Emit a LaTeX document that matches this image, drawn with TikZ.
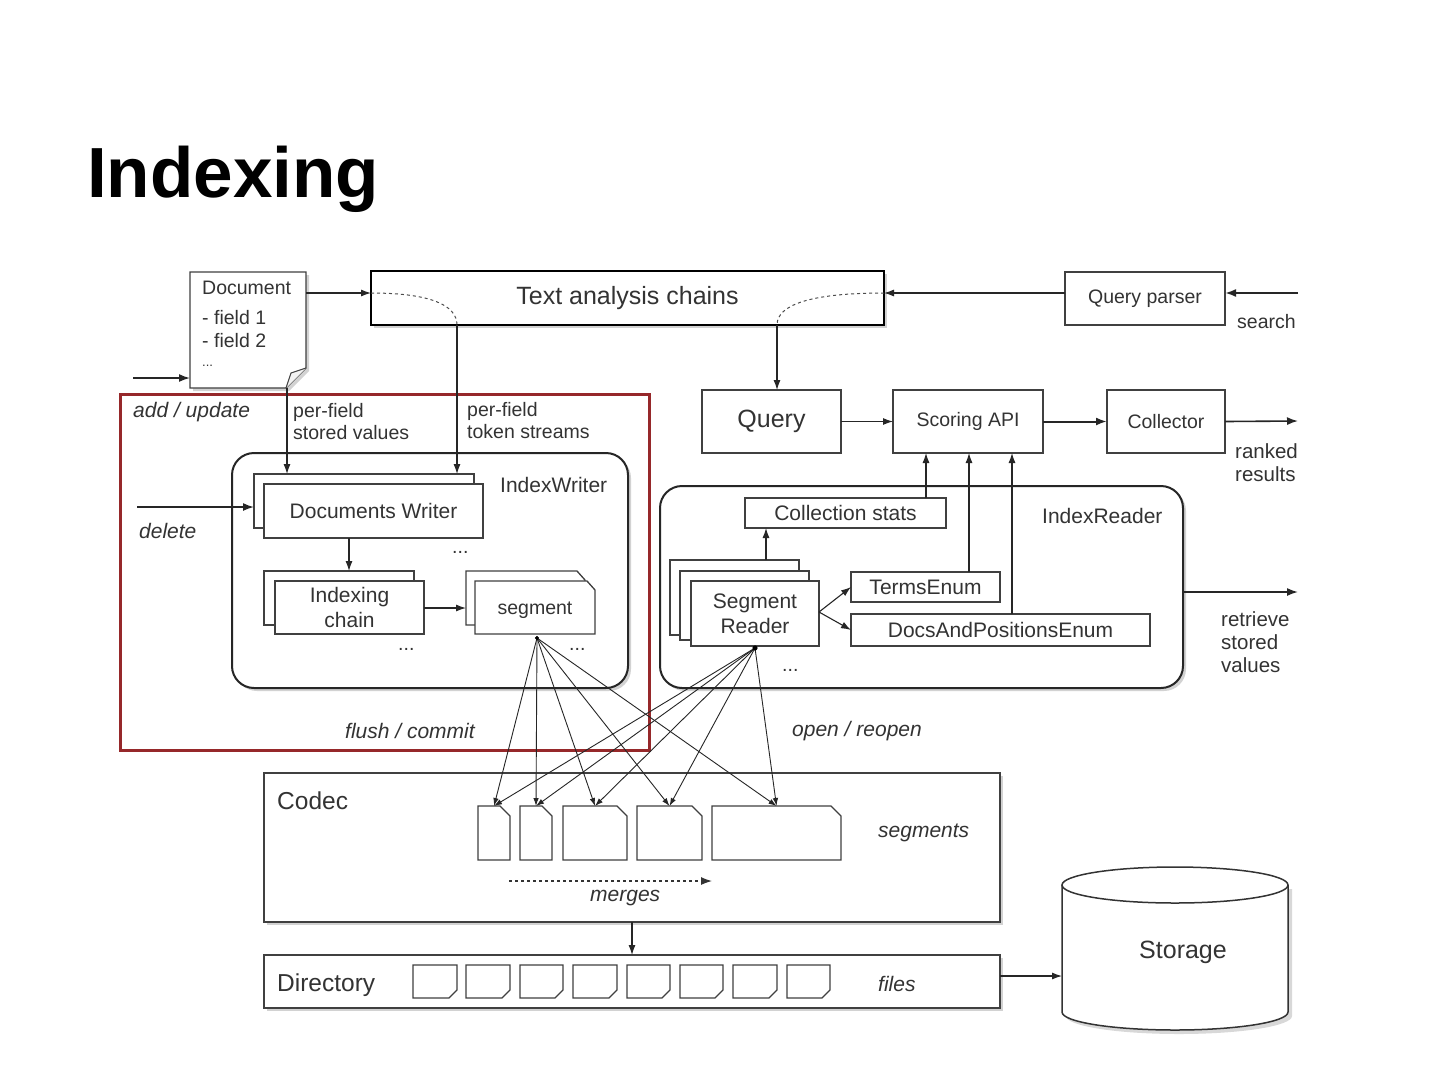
\documentclass[tikz,border=0pt]{standalone}
\usepackage{fontspec}
\setmainfont{Liberation Sans}
\usetikzlibrary{arrows.meta,shadows}
\newcommand{\fsz}[1]{\fontsize{#1}{1.17\dimexpr#1pt\relax}\selectfont}
\newcommand{\cutbox}[5]{% x1 y1 x2 y2 name ; cut corner top right
  \draw[fill=white,line width=1.3pt,draw=black!75] (#1,#2) -- (#3-10,#2) -- (#3,#2+10) -- (#3,#4) -- (#1,#4) -- cycle;
  \coordinate (#5) at ({(#1+#3)/2},#2);}
\newcommand{\dirfile}[3]{% x1 x2 name ; folded bottom right
  \draw[fill=white,line width=1.2pt,draw=black!75] (#1,965) -- (#2,965) -- (#2,990) -- (#2-8,998) -- (#1,998) -- cycle;
  \coordinate (#3) at (#1,965);}
\begin{document}
\begin{tikzpicture}[x=1pt,y=-1pt,
  txt/.style={text=black!80,inner sep=0pt,anchor=base west},
  lab/.style={txt,font=\fsz{19.5}},
  ilab/.style={txt,font=\fsz{21}\itshape},
  box/.style={draw=black!75,fill=white,line width=1.3pt,inner sep=0pt,outer sep=0pt,anchor=north west,text=black!80,font=\fsz{21},align=center},
  shd/.style={drop shadow={shadow xshift=3pt,shadow yshift=-3pt,opacity=0.35}},
  rbox/.style={box,rounded corners=22pt,line width=2pt,draw=black!85},
  arr/.style={-{Latex[length=10pt,width=7pt]},line width=1.1pt,draw=black!85},
  tarr/.style={-{Latex[length=11pt,width=8pt]},line width=2pt,draw=black!85}]
\useasboundingbox (0,0) rectangle (1440,1080);
\fill[white] (0,0) rectangle (1440,1080);
\node[anchor=base west,inner sep=0pt,font=\fontsize{71}{71}\selectfont\bfseries] (title) at (87,197) {Indexing};

% Document
\draw[fill=white,line width=1.3pt,draw=black!75,shd] (190,272) -- (306,272) -- (306,368) -- (286,388) -- (190,388) -- cycle;
\draw[line width=1pt,draw=black!75,fill=black!5] (306,368) -- (291,373) -- (286,388);
\coordinate (docR) at (306,293);
\coordinate (docL) at (190,378);
\node[lab] (d1) at (202,294) {Document};
\node[lab] (d2) at (202,324) {- field 1};
\node[lab] (d3) at (202,347) {- field 2};
\node[lab,font=\fsz{13}] (d4) at (202,366) {...};
\coordinate (inDoc) at (133,378);
\draw[tarr,line width=1.6pt] (inDoc) -- (docL);
\node[ilab] (addup) at (133,417) {add / update};

% Text analysis chains
\node[box,line width=2.6pt,draw=black,minimum width=513pt,minimum height=54pt,font=\fsz{25},shd] (tac) at (371,271) {Text analysis chains};
\draw[arr] (docR) -- (tac.west |- docR);
\coordinate (tacL) at (457,325);
\coordinate (tacR) at (777,325);
\draw[dashed,line width=1pt,draw=black!70] (371,293) .. controls (430,293) and (457,305) .. (tacL);
\draw[dashed,line width=1pt,draw=black!70] (884,293) .. controls (810,293) and (777,305) .. (tacR);

% Query parser
\node[box,minimum width=160pt,minimum height=53pt,font=\fsz{19.5}] (qp) at (1065,272) {Query parser};
\coordinate (search) at (1298,293);
\draw[tarr] (search) -- (qp.east |- search);
\node[lab] (searchl) at (1237,328) {search};
\draw[arr] (qp.west |- search) -- (884,293);

% red frame
\draw[line width=3pt,draw={rgb,255:red,150;green,40;blue,42}] (120,394) rectangle (649,750);
\node[lab] (pf1) at (293,417) {per-field};
\node[lab] (pf2) at (293,439) {stored values};
\node[lab] (pt1) at (467,416) {per-field};
\node[lab] (pt2) at (467,438) {token streams};

% IndexWriter
\node[rbox,minimum width=396pt,minimum height=235pt,shd] (iw) at (232,453) {};
\node[lab,font=\fsz{21}] (iwl) at (500,492) {IndexWriter};
\node[box,minimum width=220pt,minimum height=54pt] (dwb) at (254,474) {};
\node[box,minimum width=219pt,minimum height=54pt] (dw) at (264,484) {Documents Writer};
\draw[arr] (287,388) -- (287,474);
\draw[arr] (tacL) -- (457,474);
\coordinate (delS) at (137,507);
\draw[tarr,line width=1.6pt] (delS) -- (254,507);
\node[ilab] (dell) at (139,538) {delete};
\node[lab] (dots1) at (452,553) {...};
\node[box,minimum width=150pt,minimum height=54pt] (icb) at (264,571) {};
\node[box,minimum width=149pt,minimum height=53pt] (ic) at (275,581) {Indexing\\chain};
\draw[arr] (349,538) -- (349,571);
\node[lab] (dots2) at (398,650) {...};
\draw[fill=white,line width=1.3pt,draw=black!75] (466,571) -- (577,571) -- (585,580) -- (585,625) -- (466,625) -- cycle;
\draw[fill=white,line width=1.3pt,draw=black!75] (475,581) -- (587,581) -- (595,590) -- (595,634) -- (475,634) -- cycle;
\node[txt,font=\fsz{19.5},anchor=center] (seg) at (535,610) {segment};
\draw[arr] (424,608) -- (466,608);
\coordinate (segB) at (537,638);
\node[lab] (dots3) at (569,650) {...};
\node[ilab] (flush) at (345,738) {flush / commit};

% Query / scoring
\node[box,minimum width=139pt,minimum height=63pt,font=\fsz{25}] (query) at (702,390) {Query};
\draw[arr] (tacR) -- (query.north -| tacR);
\node[box,minimum width=150pt,minimum height=63pt,font=\fsz{19.5}] (score) at (893,390) {Scoring API};
\node[box,minimum width=118pt,minimum height=63pt,font=\fsz{19.5}] (coll) at (1107,390) {Collector};
\draw[arr] (query.east) -- (score.west);
\draw[tarr] (score.east) -- (coll.west);
\coordinate (ranked) at (1298,421);
\draw[tarr,line width=1.6pt] (coll.east) -- (ranked);
\node[lab,font=\fsz{20.5}] (rk1) at (1235,458) {ranked};
\node[lab,font=\fsz{20.5}] (rk2) at (1235,481) {results};

% IndexReader
\node[rbox,minimum width=523pt,minimum height=202pt,shd] (ir) at (660,486) {};
\node[lab,font=\fsz{21}] (irl) at (1042,523) {IndexReader};
\node[box,minimum width=201pt,minimum height=30pt] (cs) at (745,498) {Collection stats};
\node[box,minimum width=129pt,minimum height=75pt] (sr3) at (670,560) {};
\node[box,minimum width=129pt,minimum height=69pt] (sr2) at (680,571) {};
\node[box,minimum width=128pt,minimum height=65pt] (sr) at (691,581) {Segment\\Reader};
\draw[arr] (766,560) -- (766,528);
\node[box,minimum width=149pt,minimum height=30pt] (te) at (851,572) {TermsEnum};
\node[box,minimum width=299pt,minimum height=32pt] (dp) at (851,614) {DocsAndPositionsEnum};
\draw[arr] (926,498) -- (926,453);
\draw[arr] (969,572) -- (969,453);
\draw[arr] (1012,614) -- (1012,453);
\draw[arr] (819,612) -- (te.west);
\draw[arr] (819,612) -- (dp.west);
\node[lab] (dots4) at (782,671) {...};
\coordinate (srB) at (755,648);
\coordinate (retr) at (1298,592);
\draw[tarr,line width=1.6pt] (1183,592) -- (retr);
\node[lab,font=\fsz{20.5}] (rt1) at (1221,626) {retrieve};
\node[lab,font=\fsz{20.5}] (rt2) at (1221,649) {stored};
\node[lab,font=\fsz{20.5}] (rt3) at (1221,672) {values};
\node[ilab] (open) at (792,736) {open / reopen};

% Codec
\node[box,minimum width=736pt,minimum height=149pt,shd] (codec) at (264,773) {};
\node[lab,font=\fsz{24.5}] (codecl) at (277,809) {Codec};
\node[ilab] (segl) at (878,837) {segments};
\cutbox{478}{806}{510}{860}{f1}
\cutbox{520}{806}{552}{860}{f2}
\cutbox{563}{806}{627}{860}{f3}
\cutbox{637}{806}{702}{860}{f4}
\cutbox{712}{806}{841}{860}{f5}
\foreach \f in {f1,f2,f3,f4,f5}{
  \draw[arr,line width=0.9pt,-{Latex[length=8pt,width=5.5pt]}] (segB) -- (\f);
  \draw[arr,line width=0.9pt,-{Latex[length=8pt,width=5.5pt]}] (srB) -- (\f);
}
\draw[fill=black] (segB) circle (1.8pt);
\draw[fill=black] (srB) circle (2.3pt);
\coordinate (mS) at (509,881);
\coordinate (mE) at (712,881);
\draw[dashed,line width=1.1pt,-{Latex[length=11pt,width=8pt]},draw=black!80] (mS) -- (mE);
\node[ilab] (merges) at (590,901) {merges};

% Directory
\node[box,minimum width=736pt,minimum height=53pt,shd] (dir) at (264,955) {};
\node[lab,font=\fsz{24.5}] (dirl) at (277,991) {Directory};
\draw[arr] (632,922) -- (632,955);
\dirfile{413}{457}{g1}
\dirfile{466}{510}{g2}
\dirfile{520}{563}{g3}
\dirfile{573}{617}{g4}
\dirfile{627}{670}{g5}
\dirfile{680}{723}{g6}
\dirfile{733}{777}{g7}
\dirfile{787}{830}{g8}
\node[ilab] (files) at (878,991) {files};

% Storage
\coordinate (stW) at (1062,976);
\fill[black!30,opacity=0.5] (1066,889) -- (1066,1016) arc[start angle=180,end angle=360,x radius=113pt,y radius=18pt] -- (1292,889) -- cycle;
\fill[white] (1062,885) -- (1062,1012) arc[start angle=180,end angle=360,x radius=113pt,y radius=18pt] -- (1288,885) -- cycle;
\fill[white] (1175,885) ellipse[x radius=113pt,y radius=18pt];
\draw[line width=1.5pt,draw=black!80] (1062,885) -- (1062,1012) arc[start angle=180,end angle=360,x radius=113pt,y radius=18pt] -- (1288,885);
\draw[line width=1.5pt,draw=black!80] (1175,885) ellipse[x radius=113pt,y radius=18pt];
\node[txt,font=\fsz{25},anchor=center] (storage) at (1183,952) {Storage};
\draw[arr] (1000,976) -- (stW);
\end{tikzpicture}
\end{document}
